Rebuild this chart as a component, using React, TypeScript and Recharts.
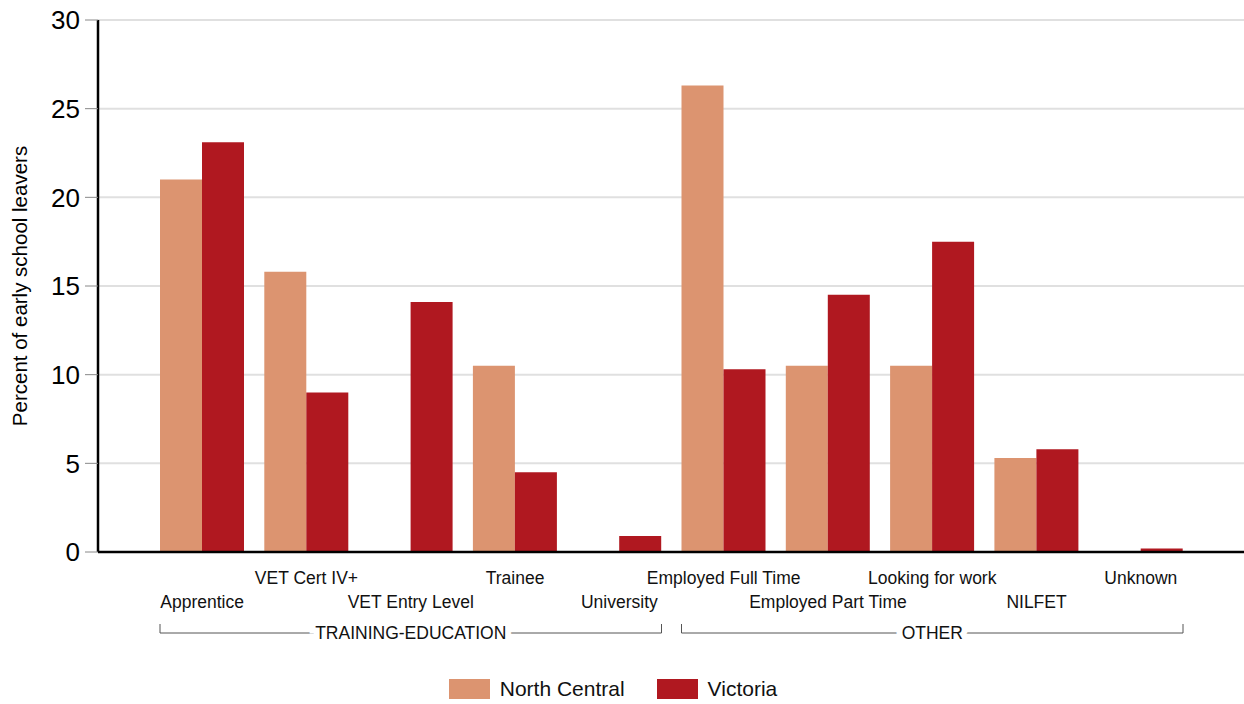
import { BarChart, Bar, XAxis, YAxis, CartesianGrid } from 'recharts'

document.body.style.margin = '0'

const categories = [
  'Apprentice',
  'VET Cert IV+',
  'VET Entry Level',
  'Trainee',
  'University',
  'Employed Full Time',
  'Employed Part Time',
  'Looking for work',
  'NILFET',
  'Unknown',
]
const northCentral = [21.0, 15.8, 0, 10.5, 0, 26.3, 10.5, 10.5, 5.3, 0]
const victoria = [23.1, 9.0, 14.1, 4.5, 0.9, 10.3, 14.5, 17.5, 5.8, 0.2]
const groups = [
  { label: 'TRAINING-EDUCATION', first: 0, count: 5 },
  { label: 'OTHER', first: 5, count: 5 },
]
const yTicks = [0, 5, 10, 15, 20, 25, 30]

const COLORS = {
  northCentral: '#dc9470',
  victoria: '#b01820',
}

const FONT = '"Liberation Sans", Arial, sans-serif'
const W = 1244
const H = 704
const PLOT_LEFT = 98
const PAD_L = 52
const PAD_R = 51
const BAND = (W - PLOT_LEFT - PAD_L - PAD_R) / categories.length
const CAT_GAP = 10

const data = categories.map((name, i) => ({
  name,
  northCentral: northCentral[i],
  victoria: victoria[i],
}))

function CategoryTick({ x, y, payload, index }: any) {
  const upper = index % 2 === 1
  const group = groups.find((g) => g.first === index)
  const half = BAND / 2 - CAT_GAP
  return (
    <g>
      <text
        x={x}
        y={y + (upper ? 32 : 56)}
        textAnchor="middle"
        fontSize={17.5}
        fontFamily={FONT}
        fill="#111"
      >
        {payload.value}
      </text>
      {group && (
        <g>
          <path
            d={`M${x - half},${y + 72}V${y + 81}H${x + (group.count - 1) * BAND + half}V${y + 72}`}
            stroke="#555"
            strokeWidth={1}
            fill="none"
          />
          <text
            x={x + ((group.count - 1) * BAND) / 2}
            y={y + 87}
            textAnchor="middle"
            fontSize={17.5}
            fontFamily={FONT}
            fill="#111"
            stroke="#fff"
            strokeWidth={12}
            paintOrder="stroke"
          >
            {group.label}
          </text>
        </g>
      )}
    </g>
  )
}

function LegendItem({ color, label }: { color: string; label: string }) {
  return (
    <span style={{ display: 'inline-flex', alignItems: 'center', margin: '0 16px' }}>
      <span style={{ width: 41, height: 20, background: color, display: 'inline-block', marginRight: 10 }} />
      <span style={{ fontSize: 21, fontFamily: FONT, color: '#111' }}>{label}</span>
    </span>
  )
}

export default function App() {
  return (
    <div style={{ position: 'relative', width: W, height: H, background: '#fff' }}>
      <BarChart
        width={W}
        height={H}
        data={data}
        margin={{ top: 20, right: 0, left: 10, bottom: 52 }}
        barCategoryGap={CAT_GAP}
        barGap={0}
      >
        <CartesianGrid vertical={false} stroke="#e0e0e0" strokeWidth={2} />
        <XAxis
          dataKey="name"
          interval={0}
          height={100}
          padding={{ left: PAD_L, right: PAD_R }}
          axisLine={{ stroke: '#000', strokeWidth: 2.5 }}
          tickLine={false}
          tickSize={0}
          tickMargin={0}
          tick={<CategoryTick />}
        />
        <YAxis
          width={88}
          domain={[0, 30]}
          ticks={yTicks}
          interval={0}
          axisLine={{ stroke: '#000', strokeWidth: 2.5 }}
          tickLine={{ stroke: '#888', strokeWidth: 1 }}
          tickSize={13}
          tickMargin={5}
          tick={{ fontSize: 26, fill: '#000', fontFamily: FONT }}
          label={{
            value: 'Percent of early school leavers',
            angle: -90,
            position: 'insideLeft',
            offset: 10,
            style: { textAnchor: 'middle', fontSize: 20.5, fill: '#000', fontFamily: FONT },
          }}
        />
        <Bar dataKey="northCentral" name="North Central" fill={COLORS.northCentral} isAnimationActive={false} />
        <Bar dataKey="victoria" name="Victoria" fill={COLORS.victoria} isAnimationActive={false} />
      </BarChart>
      <div
        style={{
          position: 'absolute',
          top: 677,
          left: -9,
          width: W,
          display: 'flex',
          justifyContent: 'center',
        }}
      >
        <LegendItem color={COLORS.northCentral} label="North Central" />
        <LegendItem color={COLORS.victoria} label="Victoria" />
      </div>
    </div>
  )
}
